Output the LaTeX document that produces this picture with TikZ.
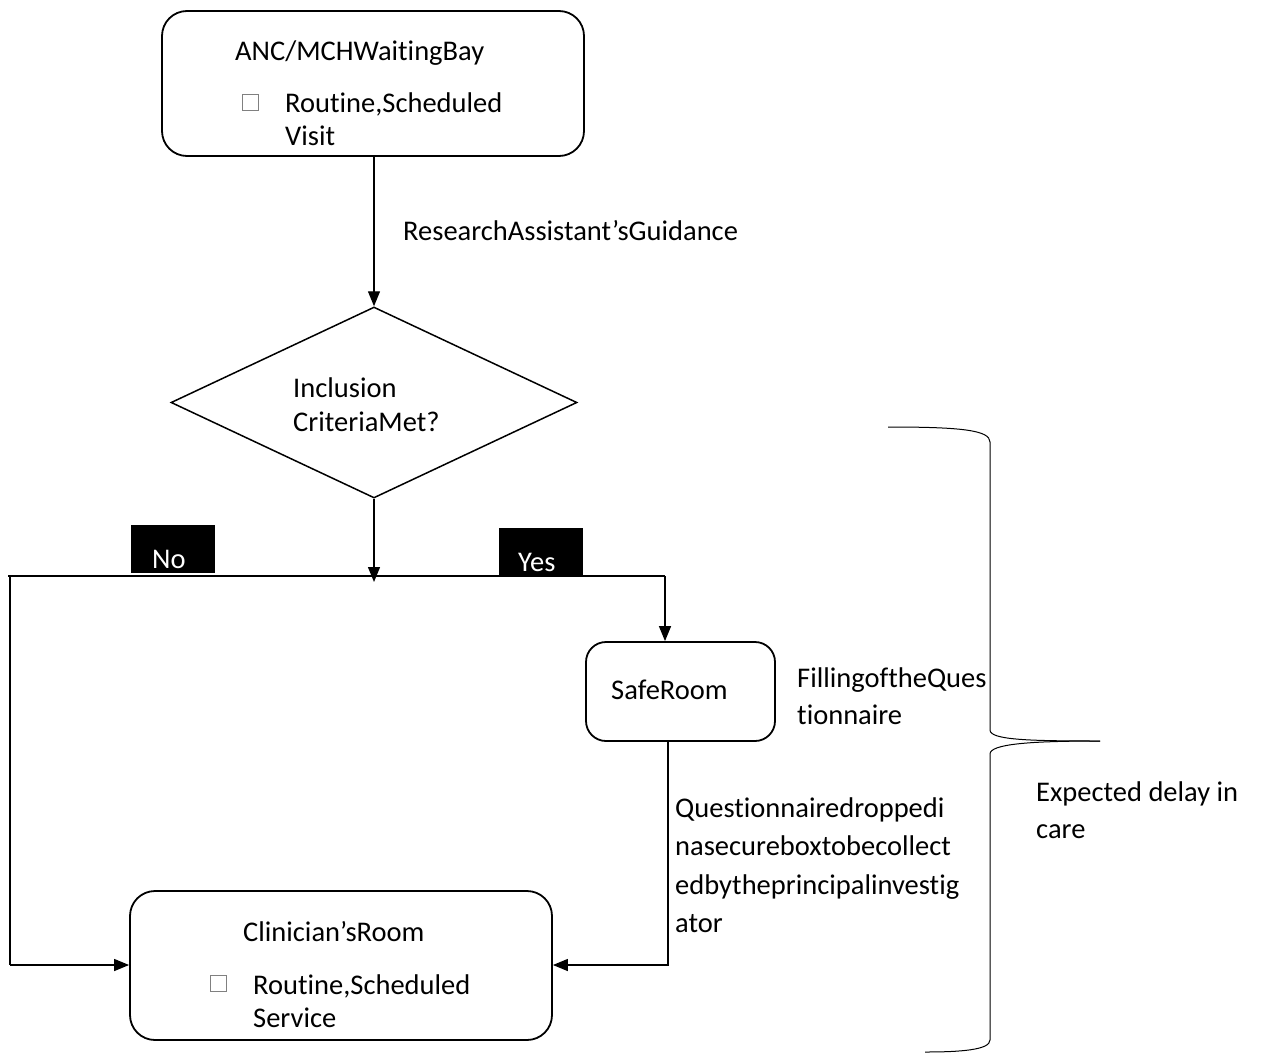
\documentclass[tikz,border=0pt]{standalone}
\usepackage{fontspec}
\setmainfont{Carlito}[Ligatures={NoCommon}]
\usetikzlibrary{shapes.geometric,arrows.meta}
\begin{document}
\begin{tikzpicture}[x=1pt,y=-1pt,
  box/.style={draw, line width=1.8pt, rounded corners=25pt, inner sep=0pt},
  txt/.style={anchor=base west, inner sep=0pt, font=\fontsize{28.5}{34}\selectfont},
  conn/.style={line width=1.3pt},
  thick line/.style={line width=2pt},
  arr/.style={conn, -{Triangle[length=15pt,width=12pt]}},
  chk/.style={draw=gray, line width=0.8pt, minimum size=16pt, inner sep=0pt},
  lbl/.style={fill=black, inner sep=0pt, minimum width=84pt, minimum height=48pt}]
\useasboundingbox[fill=white] (0,0) rectangle (1268,1054);

% boxes
\node[box, minimum width=422pt, minimum height=145pt] (wait) at (373,83.5) {};
\node[draw, diamond, line width=1.5pt, minimum width=406pt, minimum height=191pt, inner sep=0pt] (dec) at (374,402.5) {};
\node[box, rounded corners=20pt, minimum width=189pt, minimum height=99pt] (safe) at (680.5,691.5) {};
\node[box, minimum width=422pt, minimum height=149pt] (clin) at (341,965.5) {};

% texts in top box
\node[txt] (t1) at (235,61) {ANC/MCHWaitingBay};
\node[chk] (c1) at (250,102) {};
\node[txt] (t2) at (285,113) {Routine,Scheduled};
\node[txt] (t3) at (285,146) {Visit};

% guidance
\node[txt] (g) at (403,240) {ResearchAssistant’sGuidance};

% decision
\node[txt] (d1) at (293,397) {Inclusion};
\node[txt] (d2) at (293,431) {CriteriaMet?};

% yes/no labels
\node[lbl] (no) at (173,549) {};
\node[txt, text=white] (notxt) at (152,568) {No};
\node[lbl, minimum height=47pt] (yes) at (540.5,551.5) {};
\node[txt, text=white] (yestxt) at (518,571) {Yes};

% safe room
\node[txt] (s1) at (611,699) {SafeRoom};
\node[txt] (f1) at (797,687) {FillingoftheQues};
\node[txt] (f2) at (797,724) {tionnaire};

% questionnaire drop
\node[txt] (q1) at (675,817) {Questionnairedroppedi};
\node[txt] (q2) at (675,855) {nasecureboxtobecollect};
\node[txt] (q3) at (675,894) {edbytheprincipalinvestig};
\node[txt] (q4) at (675,932) {ator};

% clinician room
\node[txt] (k1) at (243,941) {Clinician’sRoom};
\node[chk] (c2) at (218.5,983.5) {};
\node[txt] (k2) at (253,994) {Routine,Scheduled};
\node[txt] (k3) at (253,1027) {Service};

% brace label
\node[txt] (e1) at (1036,801) {Expected delay in};
\node[txt] (e2) at (1036,838) {care};

% connectors
\coordinate (jn) at (374,582);
\coordinate (hl) at (8,576);
\coordinate (hr) at (665,576);
\coordinate (lt) at (10,576);
\coordinate (lb) at (10,965);
\coordinate (rb) at (668,965);

\draw[arr] (wait.south -| dec.north) -- (dec.north);
\draw[arr] (dec.south) -- (jn);
\draw[thick line] (hl) -- (hr);
\draw[arr] (hr) -- (hr |- safe.north);
\draw[thick line] (lt) -- (lb);
\draw[arr] (lb) -- (clin.west |- lb);
\draw[arr] (safe.south -| rb) -- (rb) -- (clin.east |- rb);

% brace
\draw[line width=1pt] (888,427) .. controls (960,427) and (990,430) .. (990,442)
  -- (990,730) .. controls (990,740) and (1030,741) .. (1100,741);
\draw[line width=1pt] (1100,741) .. controls (1030,741) and (990,744) .. (990,754)
  -- (990,1040) .. controls (990,1050) and (960,1052) .. (925,1052);
\end{tikzpicture}
\end{document}
